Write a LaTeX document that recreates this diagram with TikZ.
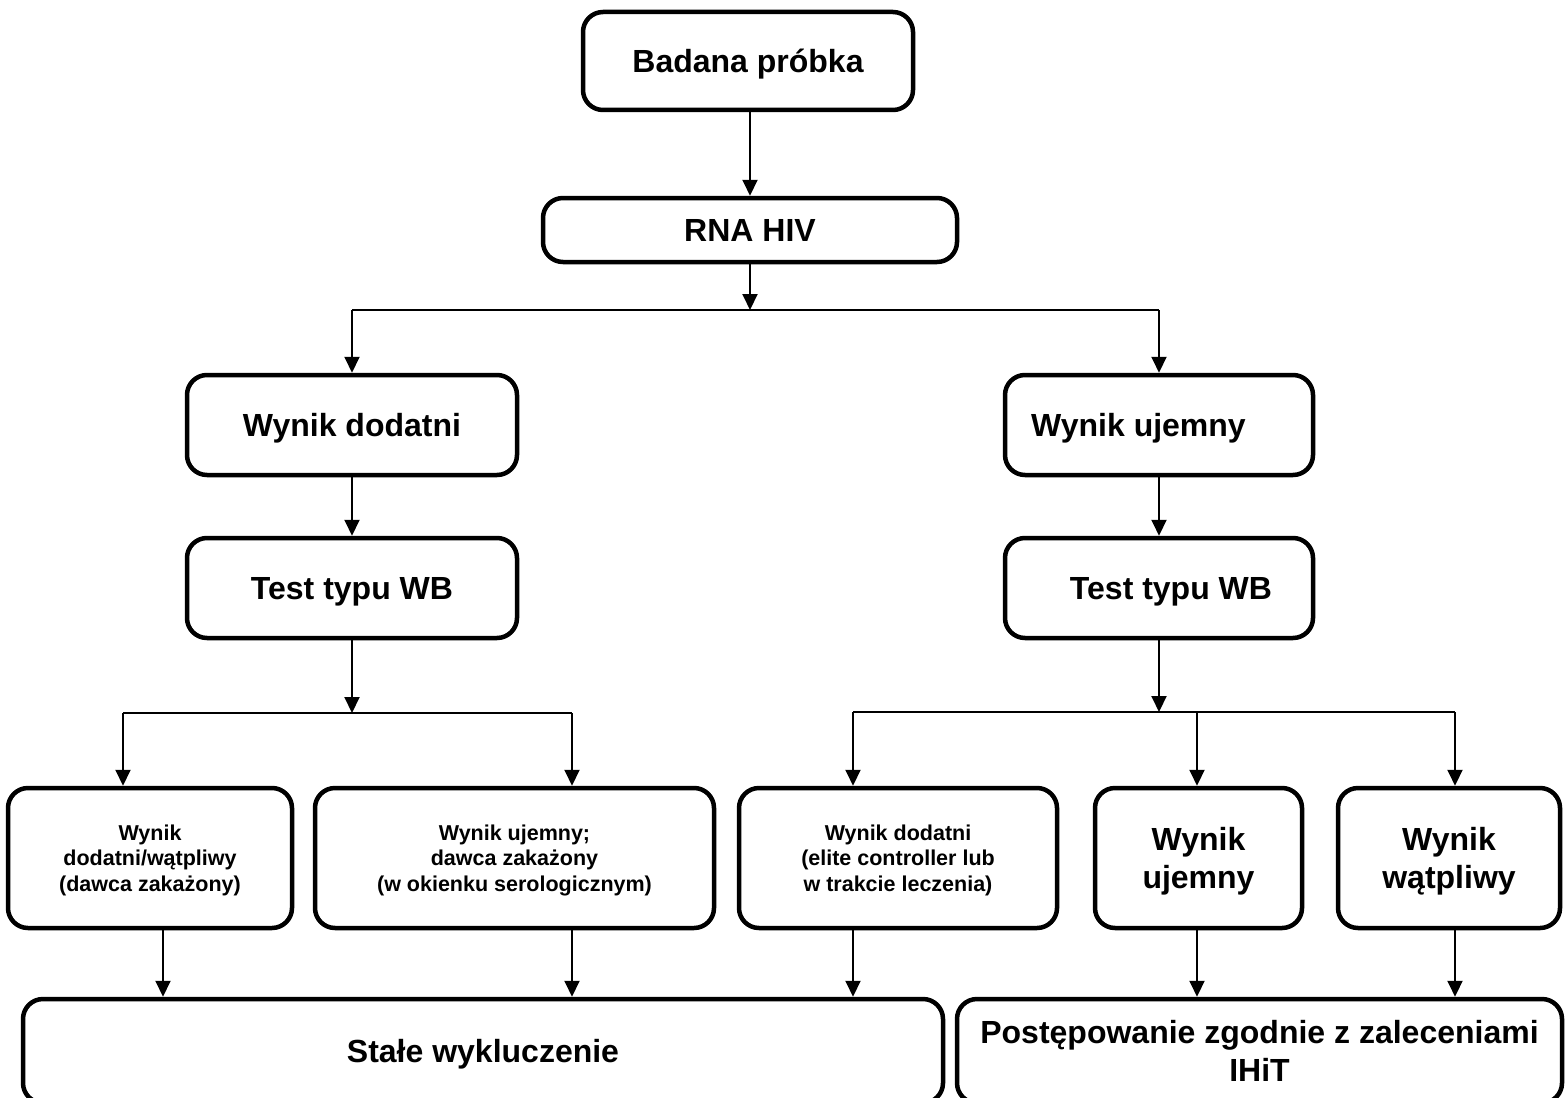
\documentclass[tikz,border=0pt]{standalone}
\usepackage{fontspec}
\setmainfont{Liberation Sans}
\usetikzlibrary{arrows.meta}
\begin{document}
\begin{tikzpicture}[x=1pt,y=-1pt,
  box/.style={draw=black, line width=4.5pt, rounded corners=20pt, inner sep=0pt,
    text depth=0pt, align=center, font=\bfseries\fontsize{32}{38}\selectfont},
  smallbox/.style={box, font=\bfseries\fontsize{21.5}{25.5}\selectfont},
  arr/.style={line width=2pt, -{Triangle[length=16pt,width=15pt]}},
  ln/.style={line width=2pt}]
\useasboundingbox (0,0) rectangle (1565,1097);

% top level
\node[box, minimum width=330pt, minimum height=98pt] (top) at (748,61) {Badana próbka};
\node[box, minimum width=414pt, minimum height=64pt] (rna) at (750,230) {RNA HIV};

% second level
\node[box, minimum width=330pt, minimum height=100pt] (pos) at (352,425) {Wynik dodatni};
\node[box, minimum width=308pt, minimum height=100pt] (neg) at (1159,425) {Wynik ujemny\hspace*{41pt}};
\node[box, minimum width=330pt, minimum height=100pt] (testL) at (352,588) {Test typu WB};
\node[box, minimum width=308pt, minimum height=100pt] (testR) at (1159,588) {\hspace*{24pt}Test typu WB};

% third level
\node[smallbox, minimum width=284pt, minimum height=140pt] (b1) at (150,858) {Wynik\\dodatni/wątpliwy\\(dawca zakażony)};
\node[smallbox, minimum width=399pt, minimum height=140pt] (b2) at (514.5,858) {Wynik ujemny;\\dawca zakażony\\(w okienku serologicznym)};
\node[smallbox, minimum width=318pt, minimum height=140pt] (b3) at (898,858) {Wynik dodatni\\(elite controller lub\\w trakcie leczenia)};
\node[box, minimum width=207pt, minimum height=140pt] (b4) at (1198.5,858) {Wynik\\ujemny};
\node[box, minimum width=222pt, minimum height=140pt] (b5) at (1449,858) {Wynik\\wątpliwy};

% bottom level
\node[box, minimum width=920pt, minimum height=104pt] (stale) at (483,1051) {Stałe wykluczenie};
\node[box, minimum width=605pt, minimum height=104pt] (post) at (1259.5,1051) {Postępowanie zgodnie z zaleceniami\\IHiT};

% junction coordinates
\coordinate (j1) at (750,310);
\coordinate (j2) at (352,713);
\coordinate (j3) at (1159,712);
\coordinate (x1) at (123,0);
\coordinate (x2) at (572,0);
\coordinate (x3) at (853,0);
\coordinate (x4) at (1197,0);
\coordinate (x5) at (1455,0);
\coordinate (y1) at (163,0);

% connectors
\draw[arr] (rna.north |- top.south) -- (rna.north);
\draw[arr] (rna.south) -- (j1);
\draw[ln] (pos.north |- j1) -- (neg.north |- j1);
\draw[arr] (pos.north |- j1) -- (pos.north);
\draw[arr] (neg.north |- j1) -- (neg.north);
\draw[arr] (pos.south) -- (testL.north);
\draw[arr] (neg.south) -- (testR.north);

\draw[arr] (testL.south) -- (j2);
\draw[ln] (x1 |- j2) -- (x2 |- j2);
\draw[arr] (x1 |- j2) -- (x1 |- b1.north);
\draw[arr] (x2 |- j2) -- (x2 |- b2.north);

\draw[arr] (testR.south) -- (j3);
\draw[ln] (x3 |- j3) -- (x5 |- j3);
\draw[arr] (x3 |- j3) -- (x3 |- b3.north);
\draw[arr] (x4 |- j3) -- (x4 |- b4.north);
\draw[arr] (x5 |- j3) -- (x5 |- b5.north);

\draw[arr] (y1 |- b1.south) -- (y1 |- stale.north);
\draw[arr] (x2 |- b2.south) -- (x2 |- stale.north);
\draw[arr] (x3 |- b3.south) -- (x3 |- stale.north);
\draw[arr] (x4 |- b4.south) -- (x4 |- post.north);
\draw[arr] (x5 |- b5.south) -- (x5 |- post.north);
\end{tikzpicture}
\end{document}
